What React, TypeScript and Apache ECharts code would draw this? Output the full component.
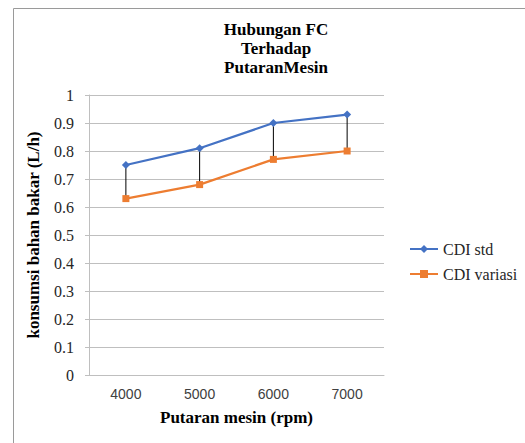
import React, { useEffect, useRef } from "react";
import * as echarts from "echarts";

const categories = ["4000", "5000", "6000", "7000"];
const cdiStd = [0.75, 0.81, 0.9, 0.93];
const cdiVariasi = [0.63, 0.68, 0.77, 0.8];
const titleText = "Hubungan FC\nTerhadap\nPutaranMesin";
const xName = "Putaran mesin (rpm)";
const yName = "konsumsi bahan bakar (L/h)";

const SERIF = "Liberation Serif";
const SANS = "Liberation Sans";
const GRID = "#bfbfbf";

export default function App() {
  const ref = useRef<HTMLDivElement>(null);
  useEffect(() => {
    if (!ref.current) return;
    const chart = echarts.init(ref.current, undefined, { renderer: "svg" });
    const dropData = categories.map((_, i) => [i, cdiStd[i], cdiVariasi[i]]);
    chart.setOption({
      animation: false,
      backgroundColor: "#ffffff",
      title: {
        text: titleText,
        left: 271,
        top: 15,
        textAlign: "center",
        textStyle: {
          fontFamily: SERIF,
          fontWeight: "bold",
          fontSize: 17,
          lineHeight: 19,
          color: "#000",
        },
      },
      graphic: [
        {
          type: "rect",
          shape: { x: 13.5, y: 8.5, width: 600, height: 500 },
          style: { fill: "none", stroke: "#9a9a9a", lineWidth: 1 },
          silent: true,
        },
      ],
      legend: {
        orient: "vertical",
        left: 404,
        top: 236,
        itemWidth: 28,
        itemHeight: 10,
        itemGap: 9,
        textStyle: { fontFamily: SERIF, fontSize: 16, color: "#262626" },
        data: ["CDI std", "CDI variasi"],
      },
      grid: { left: 89, top: 95, width: 295, height: 280 },
      xAxis: {
        type: "category",
        data: categories,
        boundaryGap: true,
        axisTick: { show: false },
        axisLine: { show: true, lineStyle: { color: GRID, width: 1 } },
        axisLabel: { fontFamily: SANS, fontSize: 14, color: "#404040", margin: 12 },
        name: xName,
        nameLocation: "middle",
        nameGap: 34,
        nameTextStyle: { fontFamily: SERIF, fontWeight: "bold", fontSize: 17, color: "#000" },
      },
      yAxis: {
        type: "value",
        min: 0,
        max: 1,
        interval: 0.1,
        axisLine: { show: true, lineStyle: { color: GRID, width: 1 } },
        axisTick: { show: true, length: 4, lineStyle: { color: GRID } },
        splitLine: { show: true, lineStyle: { color: GRID, width: 1 } },
        axisLabel: {
          fontFamily: SERIF,
          fontSize: 16,
          color: "#262626",
          margin: 15,
          formatter: (v: number) => String(Math.round(v * 10) / 10),
        },
        name: yName,
        nameLocation: "middle",
        nameMoveOverlap: false,
        nameGap: 47,
        nameTextStyle: { fontFamily: SERIF, fontWeight: "bold", fontSize: 17, color: "#000" },
      },
      series: [
        {
          type: "custom",
          name: "drop",
          data: dropData,
          z: 1,
          silent: true,
          renderItem: (params: any, api: any) => {
            const p1 = api.coord([api.value(0), api.value(1)]);
            const p2 = api.coord([api.value(0), api.value(2)]);
            return {
              type: "line",
              shape: { x1: p1[0], y1: p1[1], x2: p2[0], y2: p2[1] },
              style: { stroke: "#000", lineWidth: 1 },
            };
          },
        },
        {
          type: "line",
          name: "CDI std",
          data: cdiStd,
          z: 3,
          symbol: "diamond",
          symbolSize: 8,
          itemStyle: { color: "#4472c4" },
          lineStyle: { color: "#4472c4", width: 2.25 },
        },
        {
          type: "line",
          name: "CDI variasi",
          data: cdiVariasi,
          z: 2,
          symbol: "rect",
          symbolSize: 7,
          itemStyle: { color: "#ed7d31" },
          lineStyle: { color: "#ed7d31", width: 2.25 },
        },
      ],
    });
    return () => chart.dispose();
  }, []);
  return (
    <div
      ref={ref}
      style={{ position: "fixed", left: 0, top: 0, width: 525, height: 443 }}
    />
  );
}
